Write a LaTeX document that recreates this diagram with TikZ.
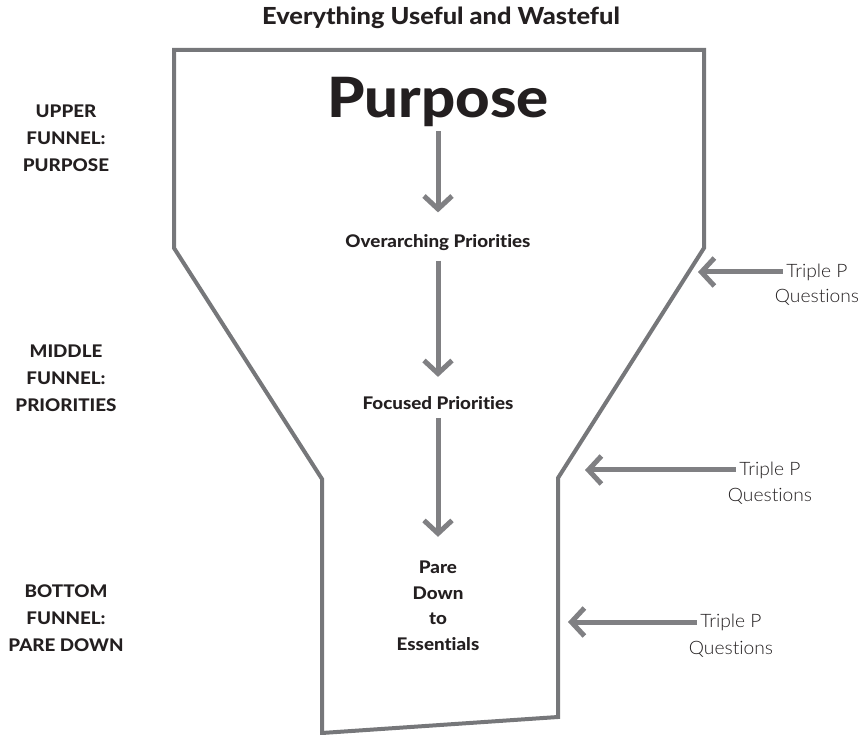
\documentclass[tikz,border=0pt]{standalone}
\usepackage{fontspec}
\setmainfont{Lato}
\IfFontExistsTF{Lato Heavy}{\newfontfamily\heavyfont[FakeStretch=1.08,Ligatures=NoCommon]{Lato Heavy}}{\newfontfamily\heavyfont[FakeStretch=1.1,Ligatures=NoCommon]{Lato Bold}}
\IfFontExistsTF{Lato Light}{\newfontfamily\lightfont[FakeStretch=1.04,Ligatures=NoCommon]{Lato Light}}{\newfontfamily\lightfont[Ligatures=NoCommon]{Lato}}
\usetikzlibrary{arrows.meta,positioning}
\definecolor{funnelgray}{HTML}{76777A}
\definecolor{arrowgray}{HTML}{808083}
\definecolor{inkblack}{HTML}{231F20}

\begin{document}
\begin{tikzpicture}[x=1pt,y=-1pt,
    flow/.style={draw=arrowgray,line width=5pt,-{Straight Barb[length=13pt,width=28pt]}},
    stage/.style={text=inkblack,font=\heavyfont\fontsize{17.4}{25.5}\selectfont,align=center},
    level/.style={text=inkblack,font=\heavyfont\fontsize{17.4}{27}\selectfont,align=center},
    ppp/.style={text=inkblack,font=\lightfont\fontsize{18.5}{22}\selectfont}]
  \useasboundingbox (0,0) rectangle (863,735);

  % funnel
  \coordinate (tl) at (174,50);
  \coordinate (tr) at (704,50);
  \coordinate (shr) at (704,248);
  \coordinate (nr) at (558,478);
  \coordinate (br) at (558,717);
  \coordinate (bl) at (322,733);
  \coordinate (nl) at (322,479);
  \coordinate (shl) at (174,248);
  \draw[funnelgray,line width=4pt] (tl) -- (tr) -- (shr) -- (nr) -- (br) -- (bl) -- (nl) -- (shl) -- cycle;

  \node[text=inkblack,font=\heavyfont\fontsize{23.5}{27}\selectfont] (title) at (441,18) {Everything Useful and Wasteful};

  \node[text=inkblack,font=\heavyfont\fontsize{55.5}{60}\selectfont] (purpose) at (438,102) {Purpose};
  \node[stage] (over) at (438,243) {Overarching Priorities};
  \node[stage] (focus) at (438,403) {Focused Priorities};
  \node[stage] (pare) at (438,606) {Pare\\Down\\to\\Essentials};

  \draw[flow,shorten <=1pt,shorten >=19pt] (purpose) -- (over);
  \draw[flow,shorten <=6pt,shorten >=16pt] (over) -- (focus);
  \draw[flow,shorten <=5pt,shorten >=21pt] (focus) -- (pare);

  % left labels
  \node[level] (upper) at (66,138) {UPPER\\FUNNEL:\\PURPOSE};
  \node[level] (middle) at (66,378) {MIDDLE\\FUNNEL:\\PRIORITIES};
  \node[level] (bottom) at (66,618) {BOTTOM\\FUNNEL:\\PARE DOWN};

  % questions
  \node[ppp] (tp1) at (817,272) {Triple P};
  \node[ppp] (qs1) at (817,297) {Questions};
  \node[ppp] (tp2) at (770,470) {Triple P};
  \node[ppp] (qs2) at (770,496) {Questions};
  \node[ppp] (tp3) at (731,622) {Triple P};
  \node[ppp] (qs3) at (731,649) {Questions};
  \coordinate (hit1) at (698,272);
  \coordinate (hit2) at (585,470);
  \coordinate (hit3) at (568,622);
  \draw[flow] (tp1.west) -- (hit1);
  \draw[flow] (tp2.west) -- (hit2);
  \draw[flow] (tp3.west) -- (hit3);
\end{tikzpicture}
\end{document}
